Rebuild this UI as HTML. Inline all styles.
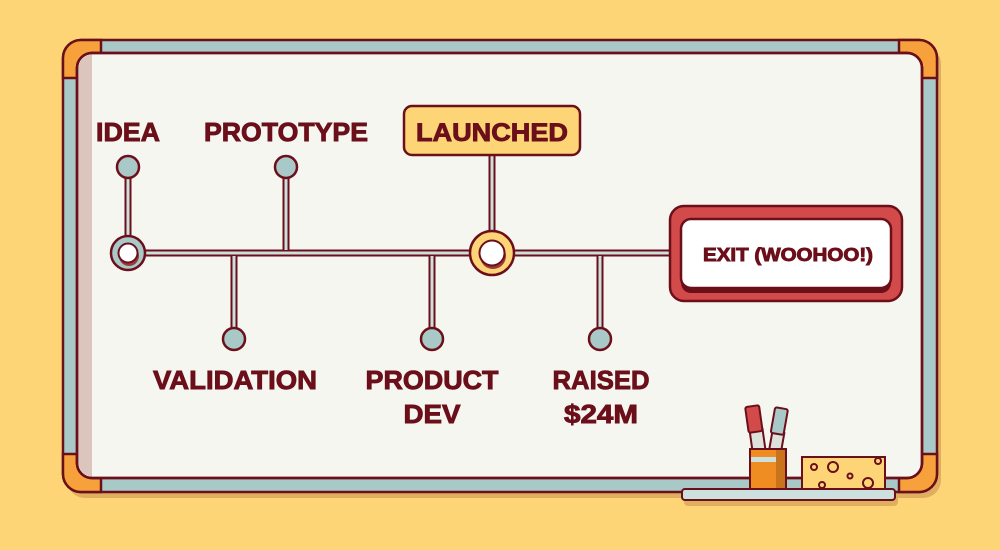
<!DOCTYPE html>
<html><head><meta charset="utf-8"><style>
html,body{margin:0;padding:0;background:#fdd577;}
svg{display:block}
text{font-family:"Liberation Sans",sans-serif;font-weight:bold;fill:#6b0f1a;stroke:#6b0f1a;stroke-width:0.9;}
</style></head><body>
<svg width="1000" height="550" viewBox="0 0 1000 550" xmlns="http://www.w3.org/2000/svg">
<rect width="1000" height="550" fill="#fdd577"/>
<rect x="67" y="46" width="874" height="452" rx="18" fill="#dfae5f"/>
<rect x="63" y="40" width="874" height="452" rx="18" fill="#a9c9c8" stroke="#6b0f1a" stroke-width="2.5"/>
<g fill="#f6a13c" stroke="#6b0f1a" stroke-width="2.5">
<path d="M101,40 H81 A18,18 0 0 0 63,58 V78 H77 V68 A15,15 0 0 1 92,53 H101 Z"/>
<path d="M899,40 H919 A18,18 0 0 1 937,58 V78 H922 V68 A15,15 0 0 0 907,53 H899 Z"/>
<path d="M101,492 H81 A18,18 0 0 1 63,474 V454 H77 V464 A15,15 0 0 0 92,478 H101 Z"/>
<path d="M899,492 H919 A18,18 0 0 0 937,474 V454 H922 V464 A15,15 0 0 1 907,478 H899 Z"/>
</g>
<rect x="77" y="53" width="845" height="425" rx="15" fill="#f6f6f0" stroke="#6b0f1a" stroke-width="2.5"/>
<path d="M92,54.5 A14,14 0 0 0 78.5,68 V463 A14,14 0 0 0 92,476.5 V54.5 Z" fill="#dcc5bd"/>
<rect x="77" y="53" width="845" height="425" rx="15" fill="none" stroke="#6b0f1a" stroke-width="2.5"/>
<g stroke="#6b0f1a" stroke-width="7" fill="none">
<path d="M128,253 H672"/>
<path d="M128,167 V253"/><path d="M286,167 V253"/>
<path d="M234,253 V339"/><path d="M432,253 V339"/><path d="M600,253 V339"/>
<path d="M492,155 V253"/>
</g>
<g stroke="#cde0e0" stroke-width="3" fill="none">
<path d="M128,253 H672"/>
<path d="M128,167 V250"/><path d="M286,167 V250"/>
<path d="M234,256 V339"/><path d="M432,256 V339"/><path d="M600,256 V339"/>
<path d="M492,155 V250"/>
</g>
<g fill="#a9c9c8" stroke="#6b0f1a" stroke-width="2.5">
<circle cx="128" cy="167" r="11"/><circle cx="286" cy="167" r="11"/>
<circle cx="234" cy="339" r="11"/><circle cx="432" cy="339" r="11"/><circle cx="600" cy="339" r="11"/>
<circle cx="128" cy="253" r="17"/>
</g>
<circle cx="492" cy="253" r="22" fill="#fdd577" stroke="#6b0f1a" stroke-width="2.5"/>
<circle cx="129" cy="256" r="10" fill="#9b3a3a"/>
<circle cx="128" cy="253" r="9.5" fill="#fff" stroke="#6b0f1a" stroke-width="2"/>
<circle cx="493" cy="256" r="13" fill="#9b3a3a"/>
<circle cx="492" cy="253" r="12.5" fill="#fff" stroke="#6b0f1a" stroke-width="2"/>
<rect x="404" y="106" width="176" height="49" rx="8" fill="#fdd577" stroke="#6b0f1a" stroke-width="2.5"/>
<text x="492" y="141" font-size="25" text-anchor="middle" textLength="152" lengthAdjust="spacingAndGlyphs">LAUNCHED</text>
<rect x="670" y="206" width="232" height="95" rx="14" fill="#d24a49" stroke="#6b0f1a" stroke-width="2.5"/>
<rect x="681" y="219" width="210" height="74" rx="10" fill="#6b0f1a"/>
<rect x="681" y="219" width="210" height="69" rx="10" fill="#fff" stroke="#6b0f1a" stroke-width="2.5"/>
<text x="788" y="261" font-size="18" text-anchor="middle" textLength="170" lengthAdjust="spacingAndGlyphs">EXIT (WOOHOO!)</text>
<g font-size="26" text-anchor="middle">
<text x="128" y="141" textLength="64" lengthAdjust="spacingAndGlyphs">IDEA</text>
<text x="286" y="141" textLength="164" lengthAdjust="spacingAndGlyphs">PROTOTYPE</text>
<text x="235" y="389" textLength="164" lengthAdjust="spacingAndGlyphs">VALIDATION</text>
<text x="432" y="389" textLength="133" lengthAdjust="spacingAndGlyphs">PRODUCT</text>
<text x="432" y="423" textLength="57" lengthAdjust="spacingAndGlyphs">DEV</text>
<text x="601" y="389" textLength="97" lengthAdjust="spacingAndGlyphs">RAISED</text>
<text x="601" y="423" textLength="74" lengthAdjust="spacingAndGlyphs">$24M</text>
</g>
<rect x="684" y="494" width="214" height="12" rx="4" fill="#dfae5f"/>
<rect x="682" y="489" width="213" height="11" rx="3" fill="#cde0e0" stroke="#6b0f1a" stroke-width="2"/>
<g stroke="#6b0f1a" stroke-width="2">
<rect x="751" y="430" width="13" height="22" fill="#dfe2dc" transform="rotate(-8 757 440)"/>
<rect x="747" y="406" width="14" height="26" rx="2" fill="#d24a49" transform="rotate(-8 754 420)"/>
<rect x="771" y="432" width="12" height="22" fill="#dfe2dc" transform="rotate(10 777 440)"/>
<rect x="773" y="408" width="13" height="26" rx="2" fill="#a9c9c8" transform="rotate(10 779 420)"/>
<rect x="750" y="449" width="36" height="40" fill="#ef8d22"/>
<rect x="750" y="457" width="36" height="5" fill="#cde0e0" stroke="none"/>
<rect x="776" y="450" width="9" height="38" fill="#c9731c" stroke="none"/>
<rect x="750" y="449" width="36" height="40" fill="none"/>
<rect x="802" y="457" width="83" height="32" fill="#fdd577"/>
</g>
<g fill="none" stroke="#6b0f1a" stroke-width="2">
<circle cx="814" cy="467" r="3"/><circle cx="833" cy="467" r="5"/><circle cx="850" cy="476" r="2.5"/>
<circle cx="878" cy="461" r="3"/><circle cx="822" cy="485" r="3"/><circle cx="868" cy="483" r="5"/>
</g>
</svg>
</body></html>
